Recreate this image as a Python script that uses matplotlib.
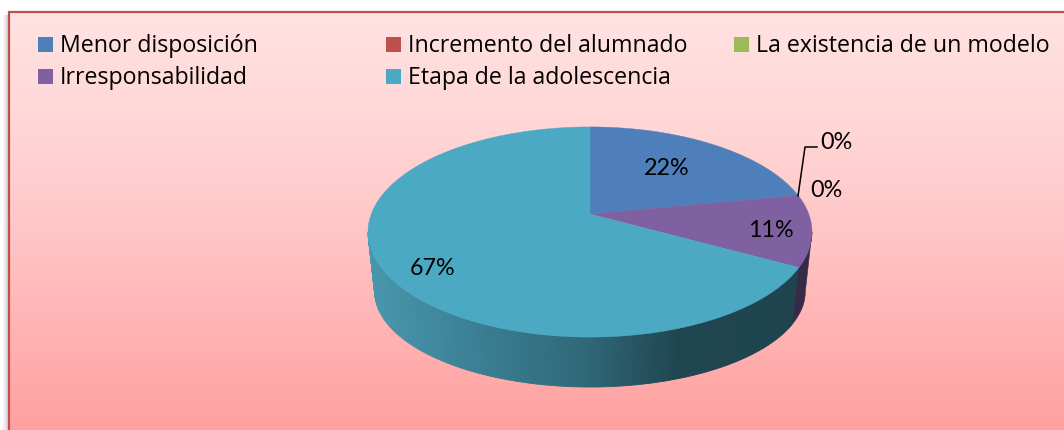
import numpy as np
import matplotlib
matplotlib.use("Agg")
import matplotlib.pyplot as plt
from matplotlib.colors import LinearSegmentedColormap
from matplotlib.patches import Rectangle

# ---- data ----
categories = ["Menor disposición", "Incremento del alumnado",
              "La existencia de un modelo", "Irresponsabilidad",
              "Etapa de la adolescencia"]
values = [22, 0, 0, 11, 67]
colors = ["#4e7fba", "#c0504d", "#9bbb59", "#7f60a0", "#4ba9c4"]
side_purple = "#352a48"

# ---- layout (pixels) ----
W, H = 1064, 431
APEX = (590.0, 215.0)
K, AY, BX = 0.1714, 102.0, 218.7      # perspective of the pie's top face
BOT_DY, BOT_SX, BOT_SY = 61.0, 0.97, 0.91


def project(t, bottom=False):
    X, Y = np.cos(t), np.sin(t)
    d = 1 + K * Y
    x, y = BX * X / d, AY * Y / d
    if bottom:
        return APEX[0] + BOT_SX * x, APEX[1] + BOT_DY - BOT_SY * y
    return APEX[0] + x, APEX[1] - y


fig = plt.figure(figsize=(W / 100, H / 100), dpi=100, facecolor="white")
ax = fig.add_axes([0, 0, 1, 1])
ax.set_xlim(0, W)
ax.set_ylim(H, 0)
ax.axis("off")

# background gradient
stops_y = [13, 130, 230, 330, 431]
stops_g = [226, 214, 198, 179, 160]
ys = np.arange(13, H + 1)
g = np.interp(ys, stops_y, stops_g) / 255
img = np.dstack([np.ones_like(g), g, g]).reshape(-1, 1, 3)
ax.imshow(img, extent=(9, W, H, 13), aspect="auto", interpolation="bilinear", zorder=1)

# soft shadow at the left of the frame
shadow = np.zeros((1, 6, 4))
shadow[..., :3] = 0.45
shadow[..., 3] = np.linspace(0, 0.3, 6)
ax.imshow(shadow, extent=(2, 8, H, 16), aspect="auto", interpolation="bilinear", zorder=0.5)
ax.set_xlim(0, W)
ax.set_ylim(H, 0)

# frame
ax.plot([8.5, 8.5, W], [H, 13, 13], color="#c0504d", lw=1.6, zorder=2,
        solid_joinstyle="miter", solid_capstyle="butt")

# slice angles, clockwise from 12 o'clock
frac = np.array(values, dtype=float) / sum(values)
edges = np.pi / 2 - 2 * np.pi * np.concatenate([[0], np.cumsum(frac)])

# side wall
side_cmap = LinearSegmentedColormap.from_list(
    "side", [(0.0, "#4797ad"), (0.25, "#3a7f93"), (0.5, "#2f6878"),
             (0.72, "#1f4650"), (1.0, "#1e444e")])
t_right = -np.arcsin(K)                 # silhouette on the right
t_left = -np.pi - t_right               # silhouette on the left
ts = np.linspace(t_left, edges[4], 140)
for a, b in zip(ts[:-1], ts[1:]):
    xa, ya = project(a)
    xb, yb = project(b)
    xc, yc = project(b, True)
    xd, yd = project(a, True)
    c = side_cmap((min(xa, xb) - 368) / 430)
    ax.fill([xa, xb, xc, xd], [ya, yb, yc, yd], color=c, lw=0.6, zorder=3)
ts = np.linspace(edges[4], t_right, 20)
tx, ty = project(ts)
bx, by = project(ts, True)
ax.fill(np.r_[tx, bx[::-1]], np.r_[ty, by[::-1]], color=side_purple, lw=0.4, zorder=3)

# top face
for i, v in enumerate(values):
    if v == 0:
        continue
    t = np.linspace(edges[i], edges[i + 1], 200)
    x, y = project(t)
    ax.fill(np.r_[APEX[0], x], np.r_[APEX[1], y], color=colors[i], lw=0.3, zorder=4)

# data labels
label_xy = [(667, 169), (836, 143), (826, 191), (771, 231), (433, 269)]
for v, (x, y) in zip(values, label_xy):
    ax.text(x, y, f"{v}%", fontsize=16.8, family="Lato", ha="center", va="center",
            color="black", zorder=6)

# leader line for the hidden 0% slice
ax.plot([798, 805, 817], [197, 148, 148], color="black", lw=1.1, zorder=5)

# legend
legend_pos = [(38, 45), (386, 45), (734, 45), (38, 77), (386, 77)]
for name, col, (x, y) in zip(categories, colors, legend_pos):
    ax.add_patch(Rectangle((x, y - 7.5), 15, 15, facecolor=col, edgecolor="none", zorder=5))
    ax.text(x + 22, y + 1.5, name, fontsize=16.65, family="Open Sans", ha="left", va="center",
            color="black", zorder=6)

fig.savefig("out.png", dpi=100)
